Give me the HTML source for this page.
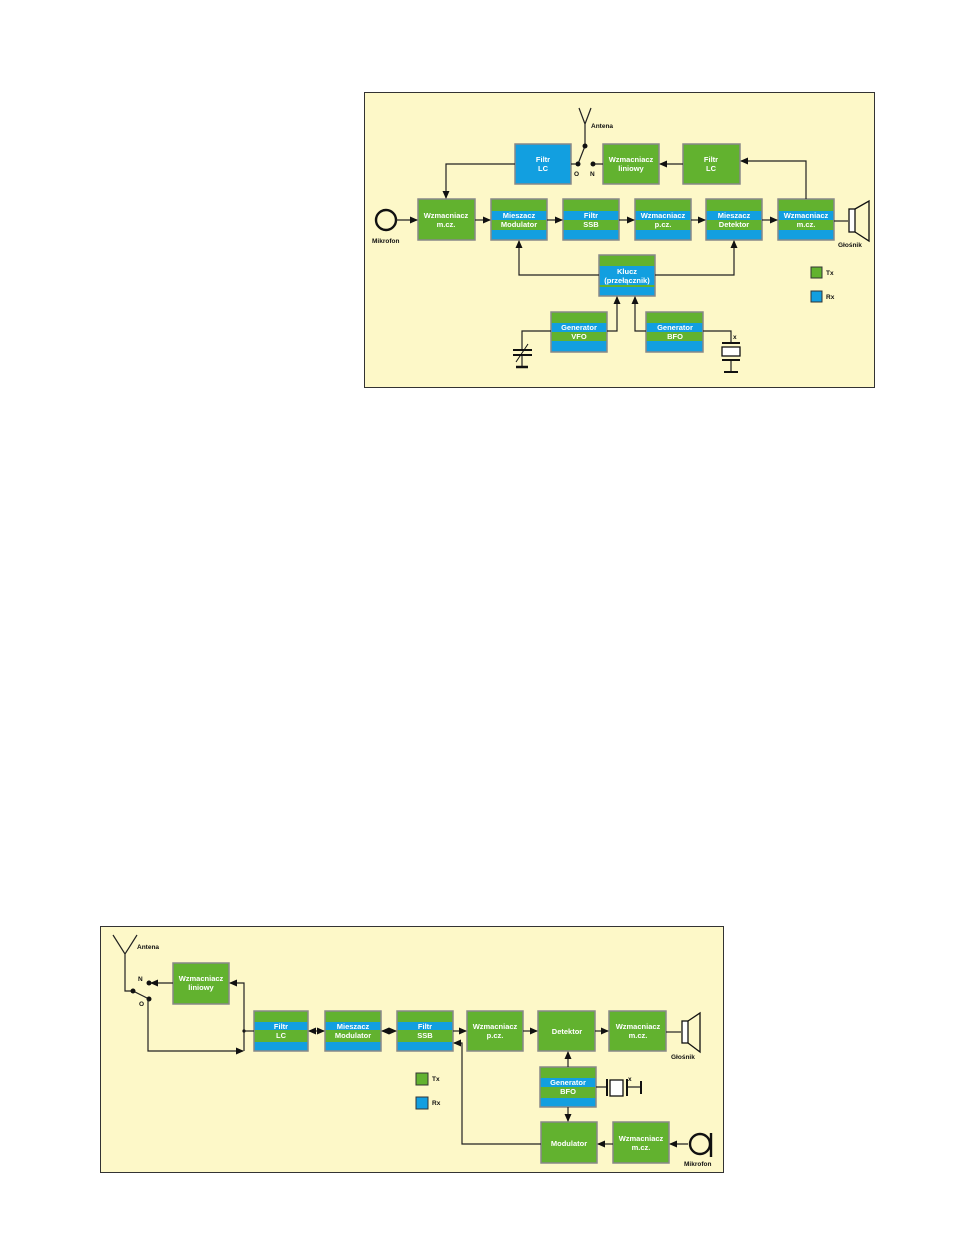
<!DOCTYPE html>
<html><head><meta charset="utf-8"><style>
body{margin:0;background:#fff}
svg text{font-family:"Liberation Sans",sans-serif;font-weight:bold}
.w{fill:#fff;font-size:7.5px;text-anchor:middle}
.b{fill:#111;font-size:6.5px}
.l{stroke:#222;stroke-width:1.2;fill:none}
</style></head><body>
<svg width="977" height="1254" viewBox="0 0 977 1254" xmlns="http://www.w3.org/2000/svg">
<defs>
<marker id="a" markerWidth="8" markerHeight="8" refX="7" refY="4" orient="auto" markerUnits="userSpaceOnUse"><path d="M0,0.5 L8,4 L0,7.5 Z" fill="#111"/></marker>
<marker id="s" markerWidth="8" markerHeight="8" refX="1" refY="4" orient="auto" markerUnits="userSpaceOnUse"><path d="M8,0.5 L0,4 L8,7.5 Z" fill="#111"/></marker>
</defs>
<!-- TOP PANEL -->
<rect x="364.5" y="92.5" width="510" height="295" fill="#fdf8c8" stroke="#333" stroke-width="1"/>
<g stroke="#888" stroke-width="1.5">
<rect x="515" y="144" width="56" height="40" fill="#129fe0"/>
<rect x="603" y="144" width="56" height="40" fill="#62b22f"/>
<rect x="683" y="144" width="57" height="40" fill="#62b22f"/>
<rect x="418" y="199" width="57" height="41" fill="#62b22f"/>
</g>
<g id="st">
</g>
<!-- striped blocks top row -->
<g stroke="none">
<rect x="491" y="199" width="56" height="41" fill="#129fe0"/><rect x="491" y="199" width="56" height="12" fill="#62b22f"/><rect x="491" y="220" width="56" height="10" fill="#62b22f"/>
<rect x="563" y="199" width="56" height="41" fill="#129fe0"/><rect x="563" y="199" width="56" height="12" fill="#62b22f"/><rect x="563" y="220" width="56" height="10" fill="#62b22f"/>
<rect x="635" y="199" width="56" height="41" fill="#129fe0"/><rect x="635" y="199" width="56" height="12" fill="#62b22f"/><rect x="635" y="220" width="56" height="10" fill="#62b22f"/>
<rect x="706" y="199" width="56" height="41" fill="#129fe0"/><rect x="706" y="199" width="56" height="12" fill="#62b22f"/><rect x="706" y="220" width="56" height="10" fill="#62b22f"/>
<rect x="778" y="199" width="56" height="41" fill="#129fe0"/><rect x="778" y="199" width="56" height="12" fill="#62b22f"/><rect x="778" y="220" width="56" height="10" fill="#62b22f"/>
<rect x="599" y="255" width="56" height="41" fill="#129fe0"/><rect x="599" y="255" width="56" height="11" fill="#62b22f"/><rect x="599" y="285" width="56" height="2" fill="#62b22f"/>
<rect x="551" y="312" width="56" height="40" fill="#129fe0"/><rect x="551" y="312" width="56" height="11" fill="#62b22f"/><rect x="551" y="332" width="56" height="9" fill="#62b22f"/>
<rect x="646" y="312" width="57" height="40" fill="#129fe0"/><rect x="646" y="312" width="57" height="11" fill="#62b22f"/><rect x="646" y="332" width="57" height="9" fill="#62b22f"/>
</g>
<g fill="none" stroke="#888" stroke-width="1.5">
<rect x="491" y="199" width="56" height="41"/><rect x="563" y="199" width="56" height="41"/><rect x="635" y="199" width="56" height="41"/><rect x="706" y="199" width="56" height="41"/><rect x="778" y="199" width="56" height="41"/><rect x="599" y="255" width="56" height="41"/><rect x="551" y="312" width="56" height="40"/><rect x="646" y="312" width="57" height="40"/>
</g>
<text class="w" x="543" y="162">Filtr</text><text class="w" x="543" y="171">LC</text>
<text class="w" x="631" y="162">Wzmacniacz</text><text class="w" x="631" y="171">liniowy</text>
<text class="w" x="711" y="162">Filtr</text><text class="w" x="711" y="171">LC</text>
<text class="w" x="446" y="218">Wzmacniacz</text><text class="w" x="446" y="227">m.cz.</text>
<text class="w" x="519" y="218">Mieszacz</text><text class="w" x="519" y="227">Modulator</text>
<text class="w" x="591" y="218">Filtr</text><text class="w" x="591" y="227">SSB</text>
<text class="w" x="663" y="218">Wzmacniacz</text><text class="w" x="663" y="227">p.cz.</text>
<text class="w" x="734" y="218">Mieszacz</text><text class="w" x="734" y="227">Detektor</text>
<text class="w" x="806" y="218">Wzmacniacz</text><text class="w" x="806" y="227">m.cz.</text>
<text class="w" x="627" y="274">Klucz</text><text class="w" x="627" y="283">(przełącznik)</text>
<text class="w" x="579" y="330">Generator</text><text class="w" x="579" y="339">VFO</text>
<text class="w" x="675" y="330">Generator</text><text class="w" x="675" y="339">BFO</text>
<!-- top connectors -->
<path class="l" d="M515,164 H446 V198" marker-end="url(#a)"/>
<path class="l" d="M579,108 L585,124 L591,108 M585,124 V146 L578,164"/>
<circle cx="585" cy="146" r="2.5" fill="#111"/><circle cx="578" cy="164" r="2.5" fill="#111"/><circle cx="593" cy="164" r="2.5" fill="#111"/>
<path class="l" d="M571,164 H576 M595,164 H603"/>
<path class="l" d="M683,164 H660" marker-end="url(#a)"/>
<path class="l" d="M806,199 V161 H741" marker-end="url(#a)"/>
<circle cx="386" cy="220" r="10" fill="none" stroke="#111" stroke-width="2.4"/>
<path class="l" d="M396,220 H417" marker-end="url(#a)"/>
<path class="l" d="M475,220 H490" marker-end="url(#a)"/>
<path class="l" d="M547,220 H562" marker-end="url(#a)"/>
<path class="l" d="M619,220 H634" marker-end="url(#a)"/>
<path class="l" d="M691,220 H705" marker-end="url(#a)"/>
<path class="l" d="M762,220 H777" marker-end="url(#a)"/>
<path class="l" d="M834,221 H848"/>
<rect x="849" y="209" width="6" height="23" fill="#fff" stroke="#111" stroke-width="1.3"/>
<path d="M855,209 L869,201 V241 L855,232" fill="none" stroke="#111" stroke-width="1.3"/>
<path class="l" d="M599,275 H519 V241" marker-end="url(#a)"/>
<path class="l" d="M655,275 H734 V241" marker-end="url(#a)"/>
<path class="l" d="M607,331 H617 V297" marker-end="url(#a)"/>
<path class="l" d="M646,331 H635 V297" marker-end="url(#a)"/>
<path class="l" d="M551,331 H522 V350 M522,355 V367"/>
<path d="M513,350 H532 M513,355 H532" stroke="#111" stroke-width="2"/>
<path d="M516,362 L528,344" stroke="#111" stroke-width="1"/>
<path d="M516,367 H528" stroke="#111" stroke-width="2.5"/>
<path class="l" d="M703,331 H731 V343 M731,360 V372"/>
<path d="M722,343 H740 M722,360 H740 M724,372 H738" stroke="#111" stroke-width="2"/>
<rect x="722" y="347" width="18" height="9" fill="#fff" stroke="#111" stroke-width="1.3"/>
<text class="b" x="591" y="128">Antena</text>
<text class="b" x="574" y="176">O</text><text class="b" x="590" y="176">N</text>
<text class="b" x="372" y="243">Mikrofon</text>
<text class="b" x="838" y="247">Głośnik</text>
<text class="b" x="733" y="339">x</text>
<rect x="811" y="267" width="11" height="11" fill="#62b22f" stroke="#333"/><text class="b" x="826" y="275">Tx</text>
<rect x="811" y="291" width="11" height="11" fill="#129fe0" stroke="#333"/><text class="b" x="826" y="299">Rx</text>

<!-- BOTTOM PANEL -->
<rect x="100.5" y="926.5" width="623" height="246" fill="#fdf8c8" stroke="#333" stroke-width="1"/>
<g stroke="none">
<rect x="254" y="1011" width="54" height="40" fill="#129fe0"/><rect x="254" y="1011" width="54" height="11" fill="#62b22f"/><rect x="254" y="1030" width="54" height="12" fill="#62b22f"/>
<rect x="325" y="1011" width="56" height="40" fill="#129fe0"/><rect x="325" y="1011" width="56" height="11" fill="#62b22f"/><rect x="325" y="1030" width="56" height="12" fill="#62b22f"/>
<rect x="397" y="1011" width="56" height="40" fill="#129fe0"/><rect x="397" y="1011" width="56" height="11" fill="#62b22f"/><rect x="397" y="1030" width="56" height="12" fill="#62b22f"/>
<rect x="540" y="1067" width="56" height="40" fill="#129fe0"/><rect x="540" y="1067" width="56" height="11" fill="#62b22f"/><rect x="540" y="1087" width="56" height="11" fill="#62b22f"/>
</g>
<g stroke="#888" stroke-width="1.5">
<rect x="173" y="963" width="56" height="41" fill="#62b22f"/>
<rect x="467" y="1011" width="56" height="40" fill="#62b22f"/>
<rect x="538" y="1011" width="57" height="40" fill="#62b22f"/>
<rect x="609" y="1011" width="57" height="40" fill="#62b22f"/>
<rect x="541" y="1122" width="56" height="41" fill="#62b22f"/>
<rect x="613" y="1122" width="56" height="41" fill="#62b22f"/>
<g fill="none"><rect x="254" y="1011" width="54" height="40"/><rect x="325" y="1011" width="56" height="40"/><rect x="397" y="1011" width="56" height="40"/><rect x="540" y="1067" width="56" height="40"/></g>
</g>
<text class="w" x="201" y="981">Wzmacniacz</text><text class="w" x="201" y="990">liniowy</text>
<text class="w" x="281" y="1029">Filtr</text><text class="w" x="281" y="1038">LC</text>
<text class="w" x="353" y="1029">Mieszacz</text><text class="w" x="353" y="1038">Modulator</text>
<text class="w" x="425" y="1029">Filtr</text><text class="w" x="425" y="1038">SSB</text>
<text class="w" x="495" y="1029">Wzmacniacz</text><text class="w" x="495" y="1038">p.cz.</text>
<text class="w" x="567" y="1034">Detektor</text>
<text class="w" x="638" y="1029">Wzmacniacz</text><text class="w" x="638" y="1038">m.cz.</text>
<text class="w" x="568" y="1085">Generator</text><text class="w" x="568" y="1094">BFO</text>
<text class="w" x="569" y="1146">Modulator</text>
<text class="w" x="641" y="1141">Wzmacniacz</text><text class="w" x="641" y="1150">m.cz.</text>
<!-- bottom connectors -->
<path class="l" d="M113,935 L125,954 L137,935 M125,954 V991 H133 L149,999"/>
<circle cx="133" cy="991" r="2.5" fill="#111"/><circle cx="149" cy="983" r="2.5" fill="#111"/><circle cx="149" cy="999" r="2.5" fill="#111"/>
<path class="l" d="M173,983 H151" marker-end="url(#a)"/>
<path class="l" d="M244,1051 V983 H230" marker-end="url(#a)"/>
<path class="l" d="M148,999 V1051 H243" marker-end="url(#a)"/>
<circle cx="244" cy="1031" r="1.6" fill="#111"/>
<path class="l" d="M244,1031 H254"/>
<path class="l" d="M309,1031 H324" marker-start="url(#s)" marker-end="url(#a)"/>
<path class="l" d="M382,1031 H396" marker-start="url(#s)" marker-end="url(#a)"/>
<path class="l" d="M453,1031 H466" marker-end="url(#a)"/>
<path class="l" d="M523,1031 H537" marker-end="url(#a)"/>
<path class="l" d="M595,1031 H608" marker-end="url(#a)"/>
<path class="l" d="M666,1032 H681"/>
<rect x="682" y="1021" width="6" height="22" fill="#fff" stroke="#111" stroke-width="1.3"/>
<path d="M688,1021 L700,1013 V1052 L688,1043" fill="none" stroke="#111" stroke-width="1.3"/>
<path class="l" d="M568,1067 V1052" marker-end="url(#a)"/>
<path class="l" d="M568,1107 V1121" marker-end="url(#a)"/>
<path class="l" d="M596,1087 H607 M627,1087 H641"/>
<path d="M607,1079 V1096 M627,1079 V1096 M641,1081 V1094" stroke="#111" stroke-width="2"/>
<rect x="610" y="1080" width="13" height="16" fill="#fff" stroke="#111" stroke-width="1.3"/>
<text class="b" x="628" y="1081">x</text>
<path class="l" d="M541,1144 H462 V1043 H454" marker-end="url(#a)"/>
<path class="l" d="M613,1144 H598" marker-end="url(#a)"/>
<path class="l" d="M688,1144 H670" marker-end="url(#a)"/>
<circle cx="700" cy="1144" r="10" fill="none" stroke="#111" stroke-width="2.4"/>
<path d="M711,1133 V1157" stroke="#111" stroke-width="2.4"/>
<text class="b" x="137" y="949">Antena</text>
<text class="b" x="138" y="981">N</text><text class="b" x="139" y="1006">O</text>
<text class="b" x="671" y="1059">Głośnik</text>
<text class="b" x="684" y="1166">Mikrofon</text>
<rect x="416" y="1073" width="12" height="12" fill="#62b22f" stroke="#333"/><text class="b" x="432" y="1081">Tx</text>
<rect x="416" y="1097" width="12" height="12" fill="#129fe0" stroke="#333"/><text class="b" x="432" y="1105">Rx</text>
</svg>
</body></html>
